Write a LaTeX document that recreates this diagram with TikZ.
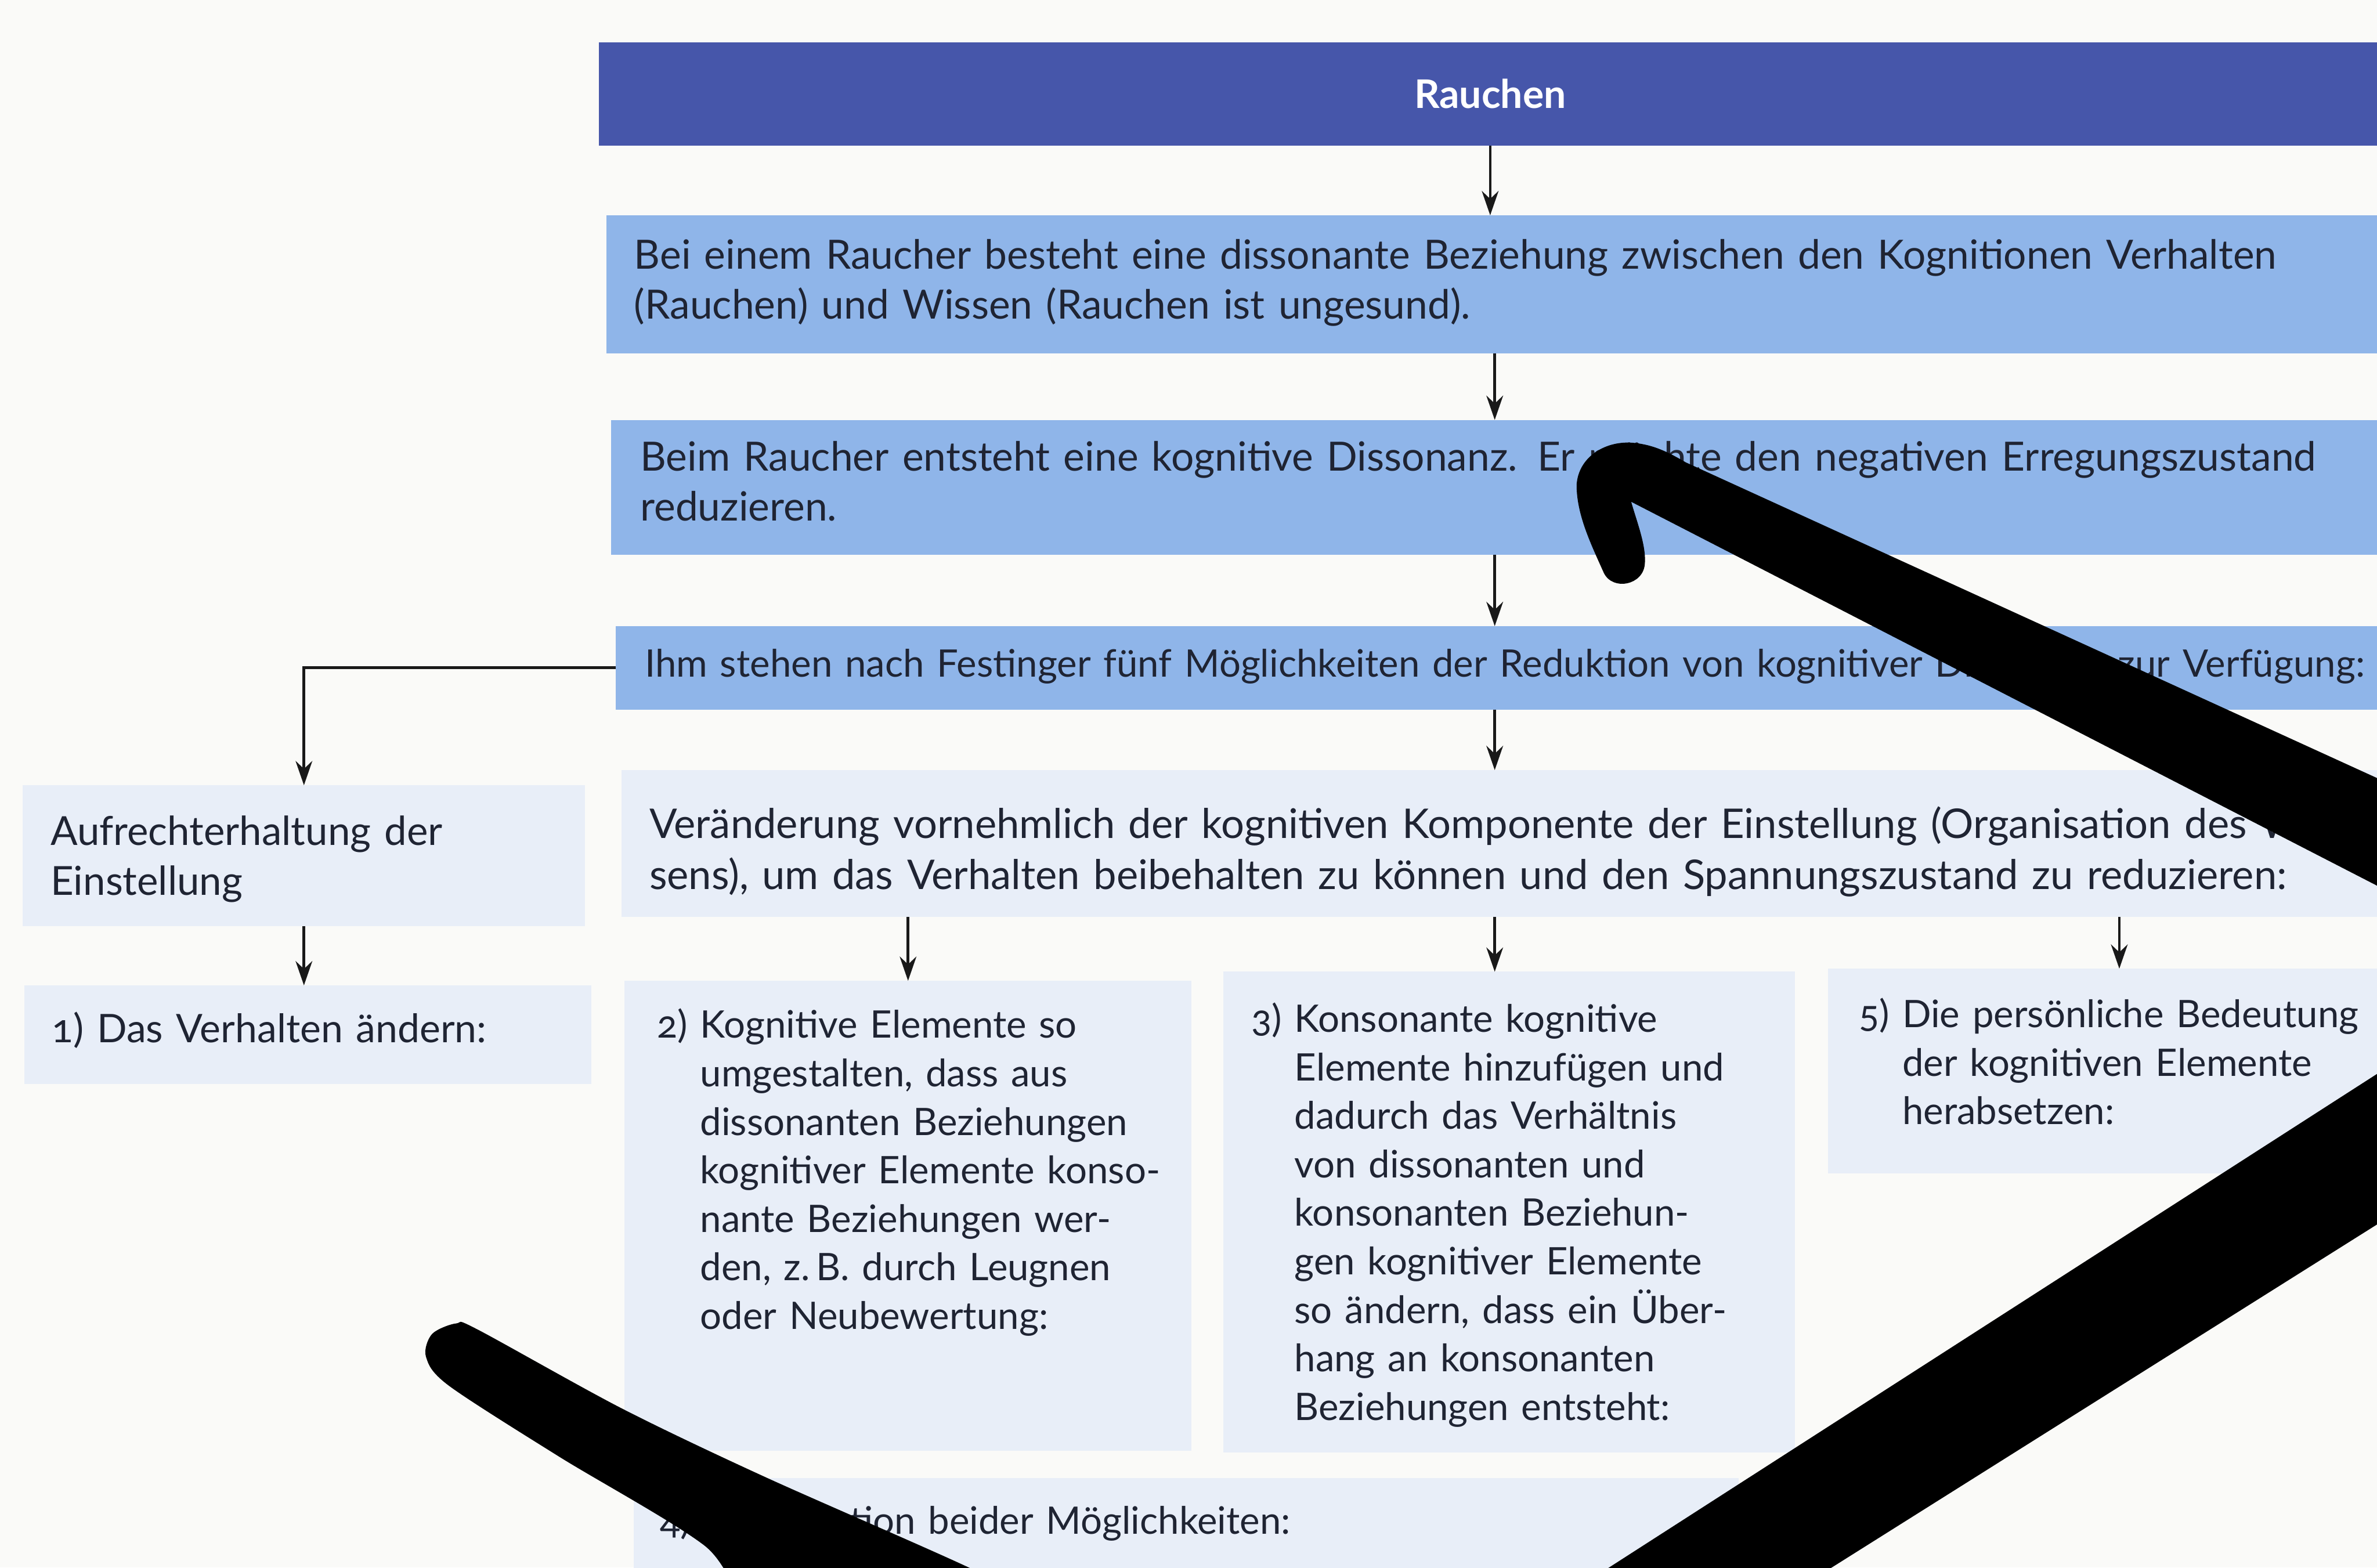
\documentclass[tikz,border=0pt]{standalone}
\usepackage{fontspec}
\setmainfont{Lato}[Numbers=OldStyle]
\usetikzlibrary{arrows.meta}
\definecolor{hdr}{HTML}{4656AA}
\definecolor{midblue}{HTML}{8FB5E9}
\definecolor{pale}{HTML}{E8EEF8}
\definecolor{ink}{HTML}{1F2433}
\definecolor{paper}{HTML}{FAFAF8}
\begin{document}
\begin{tikzpicture}[x=0.5pt,y=-0.5pt,
  box/.style={inner sep=0pt, outer sep=0pt, anchor=north west},
  txt/.style={inner sep=0pt, anchor=north west, align=left, text width=640pt, text=ink, font=\fontsize{12.5}{16.5}\selectfont},
  txtbig/.style={txt, font=\fontsize{13.3}{16.5}\selectfont},
  txtb/.style={txt, font=\fontsize{12.5}{16}\selectfont},
  arr/.style={-{Stealth[length=8pt,width=5.5pt]}, line width=0.9pt, draw=black!90},
  marker/.style={fill=black}]
\useasboundingbox (0,0) rectangle (1568,1034);
\clip (0,0) rectangle (1568,1034);
\fill[paper] (0,0) rectangle (1568,1034);

% boxes
\node[box, fill=hdr, minimum width=588pt, minimum height=34pt, text=white,
      font=\bfseries\fontsize{13}{16}\selectfont] (hd) at (395,28) {Rauchen};
\node[box, fill=midblue, minimum width=600pt, minimum height=45.5pt] (b1) at (400,142) {};
\node[box, fill=midblue, minimum width=598.5pt, minimum height=44.5pt] (b2) at (403,277) {};
\node[box, fill=midblue, minimum width=597pt, minimum height=27.5pt] (b3) at (406,413) {};
\node[box, fill=pale, minimum width=185.5pt, minimum height=46.5pt] (bA) at (15,518) {};
\node[box, fill=pale, minimum width=595pt, minimum height=48.5pt] (bV) at (410,508) {};
\node[box, fill=pale, minimum width=187pt, minimum height=32.5pt] (b1x) at (16,650) {};
\node[box, fill=pale, minimum width=187pt, minimum height=155pt] (b2x) at (412,647) {};
\node[box, fill=pale, minimum width=188.5pt, minimum height=158.5pt] (b3x) at (807,641) {};
\node[box, fill=pale, minimum width=197pt, minimum height=67.5pt] (b5x) at (1206,639) {};
\node[box, fill=pale, minimum width=364.5pt, minimum height=40pt] (b4x) at (418,975) {};

% texts (anchor = first baseline - 23.1)
\node[txtbig] (t1) at (418,154) {\strut Bei einem Raucher besteht eine dissonante Beziehung zwischen den Kognitionen Verhalten\\(Rauchen) und Wissen (Rauchen ist ungesund).};
\node[txtbig] (t2) at (422,287) {\strut Beim Raucher entsteht eine kognitive Dissonanz. Er möchte den negativen Erregungszustand\\reduzieren.};
\node[txt] (t3) at (425,423) {\strut Ihm stehen nach Festinger fünf Möglichkeiten der Reduktion von kognitiver Dissonanz zur Verfügung:};
\node[txt, font=\fontsize{13.2}{16.5}\selectfont] (tA) at (33,534) {\strut Aufrechterhaltung der\\Einstellung};
\node[txt, font=\fontsize{13.5}{16.8}\selectfont] (tV) at (428,529) {\strut Veränderung vornehmlich der kognitiven Komponente der Einstellung (Organisation des Wis-\\sens), um das Verhalten beibehalten zu können und den Spannungszustand zu reduzieren:};
\node[txtb, font=\fontsize{13}{16}\selectfont] (t1x) at (34,665) {\strut 1) Das Verhalten ändern:};
\node[txtb] (t2x) at (433,662) {\strut 2)~Kognitive Elemente so\\\phantom{2)~}umgestalten, dass aus\\\phantom{2)~}dissonanten Beziehungen\\\phantom{2)~}kognitiver Elemente konso-\\\phantom{2)~}nante Beziehungen wer-\\\phantom{2)~}den, z.\,B. durch Leugnen\\\phantom{2)~}oder Neubewertung:};
\node[txtb] (t3x) at (825,658) {\strut 3)~Konsonante kognitive\\\phantom{3)~}Elemente hinzufügen und\\\phantom{3)~}dadurch das Verhältnis\\\phantom{3)~}von dissonanten und\\\phantom{3)~}konsonanten Beziehun-\\\phantom{3)~}gen kognitiver Elemente\\\phantom{3)~}so ändern, dass ein Über-\\\phantom{3)~}hang an konsonanten\\\phantom{3)~}Beziehungen entsteht:};
\node[txtb] (t5x) at (1226,655) {\strut 5)~Die persönliche Bedeutung\\\phantom{5)~}der kognitiven Elemente\\\phantom{5)~}herabsetzen:};
\node[txtb] (t4x) at (435,989) {\strut 4) Kombination beider Möglichkeiten:};

% connectors
\coordinate (spine) at (986,0);
\coordinate (c5) at (1398,0);
\draw[arr] (hd.south) -- (hd.south |- b1.north);
\draw[arr] (b1.south -| spine) -- (b2.north -| spine);
\draw[arr] (b2.south -| spine) -- (b3.north -| spine);
\draw[arr] (b3.south -| spine) -- (bV.north -| spine);
\draw[arr] (b3.west) -| (bA.north);
\draw[arr] (bA.south) -- (bA.south |- b1x.north);
\draw[arr] (bV.south -| b2x.north) -- (b2x.north);
\draw[arr] (bV.south -| spine) -- (b3x.north -| spine);
\draw[arr] (bV.south -| c5) -- (b5x.north -| c5);

% marker strokes over the page
\fill[marker] (1620,611) -- (1076,331) .. controls (1080,345) and (1086,360) .. (1085,372)
  .. controls (1084,386) and (1064,390) .. (1058,378)
  .. controls (1050,360) and (1040,340) .. (1040,320)
  .. controls (1041,302) and (1058,291) .. (1076,292)
  .. controls (1090,293) and (1100,298) .. (1112,305) -- (1620,537) -- cycle;
\fill[marker] plot[smooth cycle, tension=0.5] coordinates {(285,880) (301,873) (315,877) (410,929) (504,974) (639,1034) (720,1075) (520,1075) (464,1019) (369,961) (296,914) (281,895)};
\fill[marker] (1620,675) -- (1021,1060) -- (1167,1060) -- (1620,775) -- cycle;
\end{tikzpicture}
\end{document}
